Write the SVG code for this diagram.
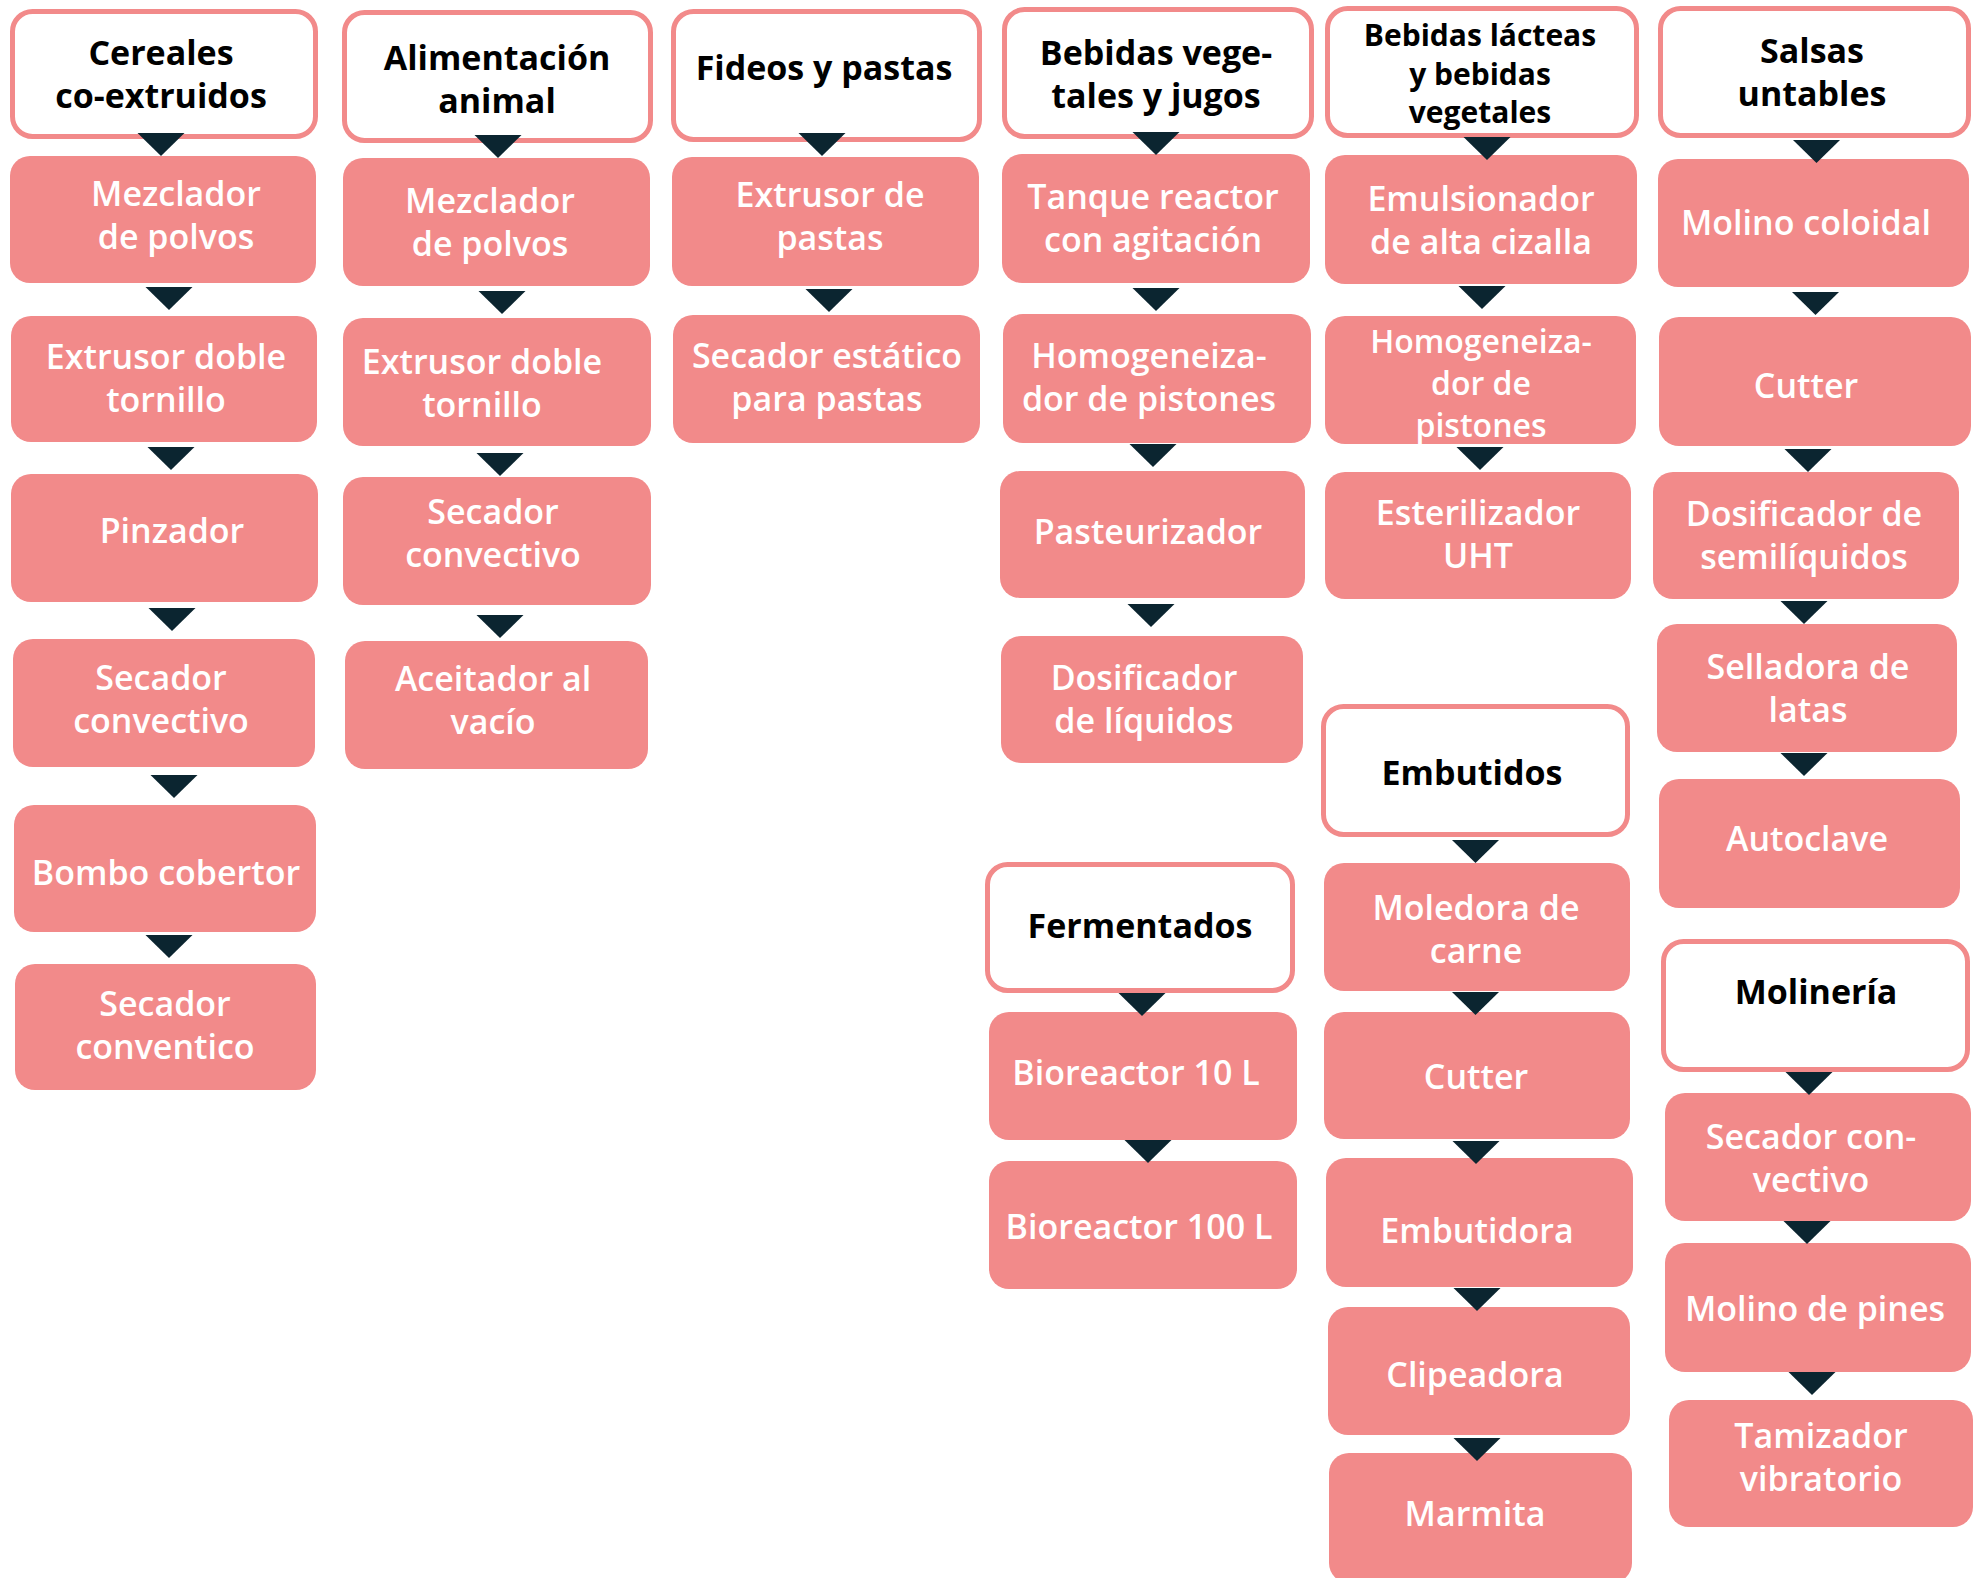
<svg xmlns="http://www.w3.org/2000/svg" width="1973" height="1578" viewBox="0 0 1973 1578">
<style>
.box{fill:#F28A8A}
.hdr{fill:#FFFFFF;stroke:#F28A8A;stroke-width:5}
.t{font-family:'Open Sans','Liberation Sans',sans-serif;font-size:34px;font-weight:600;fill:#FFFFFF;text-anchor:middle}
.h{font-family:'Open Sans','Liberation Sans',sans-serif;font-size:34px;font-weight:700;fill:#000000;text-anchor:middle}
.s{font-size:32px}
.s2{font-size:30px}
.arr{fill:#0B2530}
</style>
<rect width="1973" height="1578" fill="#FFFFFF"/>
<g id="h-cereales"><rect class="hdr" x="12.5" y="11.5" width="303" height="125" rx="20"/><text class="h" x="161" y="65">Cereales</text><text class="h" x="161" y="108">co-extruidos</text></g>
<g id="c1-mezclador"><rect class="box" x="10" y="156" width="306" height="127" rx="20"/><text class="t" x="176" y="206">Mezclador</text><text class="t" x="176" y="249">de polvos</text></g>
<g id="c1-extrusor"><rect class="box" x="11" y="316" width="306" height="126" rx="20"/><text class="t" x="166" y="369">Extrusor doble</text><text class="t" x="166" y="412">tornillo</text></g>
<g id="c1-pinzador"><rect class="box" x="11" y="474" width="307" height="128" rx="20"/><text class="t" x="172" y="543">Pinzador</text></g>
<g id="c1-secador"><rect class="box" x="13" y="639" width="302" height="128" rx="20"/><text class="t" x="161" y="690">Secador</text><text class="t" x="161" y="733">convectivo</text></g>
<g id="c1-bombo"><rect class="box" x="14" y="805" width="302" height="127" rx="20"/><text class="t" x="166" y="885">Bombo cobertor</text></g>
<g id="c1-secador2"><rect class="box" x="15" y="964" width="301" height="126" rx="20"/><text class="t" x="165" y="1016">Secador</text><text class="t" x="165" y="1059">conventico</text></g>

<g id="h-alimentacion"><rect class="hdr" x="344.5" y="12.5" width="306" height="128" rx="20"/><text class="h" x="497" y="70">Alimentación</text><text class="h" x="497" y="113">animal</text></g>
<g id="c2-mezclador"><rect class="box" x="343" y="158" width="307" height="128" rx="20"/><text class="t" x="490" y="213">Mezclador</text><text class="t" x="490" y="256">de polvos</text></g>
<g id="c2-extrusor"><rect class="box" x="343" y="318" width="308" height="128" rx="20"/><text class="t" x="482" y="374">Extrusor doble</text><text class="t" x="482" y="417">tornillo</text></g>
<g id="c2-secador"><rect class="box" x="343" y="477" width="308" height="128" rx="20"/><text class="t" x="493" y="524">Secador</text><text class="t" x="493" y="567">convectivo</text></g>
<g id="c2-aceitador"><rect class="box" x="345" y="641" width="303" height="128" rx="20"/><text class="t" x="493" y="691">Aceitador al</text><text class="t" x="493" y="734">vacío</text></g>

<g id="h-fideos"><rect class="hdr" x="673.5" y="11.5" width="306" height="128" rx="20"/><text class="h" x="824" y="80">Fideos y pastas</text></g>
<g id="c3-extrusor"><rect class="box" x="672" y="157" width="307" height="129" rx="20"/><text class="t" x="830" y="207">Extrusor de</text><text class="t" x="830" y="250">pastas</text></g>
<g id="c3-secador"><rect class="box" x="673" y="315" width="307" height="128" rx="20"/><text class="t" x="827" y="368">Secador estático</text><text class="t" x="827" y="411">para pastas</text></g>

<g id="h-bebidas-veg"><rect class="hdr" x="1004.5" y="9.5" width="307" height="127" rx="20"/><text class="h" x="1156" y="65">Bebidas vege-</text><text class="h" x="1156" y="108">tales y jugos</text></g>
<g id="c4-tanque"><rect class="box" x="1002" y="154" width="308" height="129" rx="20"/><text class="t" x="1153" y="209">Tanque reactor</text><text class="t" x="1153" y="252">con agitación</text></g>
<g id="c4-homog"><rect class="box" x="1003" y="314" width="308" height="129" rx="20"/><text class="t" x="1149" y="368">Homogeneiza-</text><text class="t" x="1149" y="411">dor de pistones</text></g>
<g id="c4-pasteur"><rect class="box" x="1000" y="471" width="305" height="127" rx="20"/><text class="t" x="1148" y="544">Pasteurizador</text></g>
<g id="c4-dosif"><rect class="box" x="1001" y="636" width="302" height="127" rx="20"/><text class="t" x="1144" y="690">Dosificador</text><text class="t" x="1144" y="733">de líquidos</text></g>

<g id="h-fermentados"><rect class="hdr" x="987.5" y="864.5" width="305" height="126" rx="20"/><text class="h" x="1140" y="938">Fermentados</text></g>
<g id="c4-bio10"><rect class="box" x="989" y="1012" width="308" height="128" rx="20"/><text class="t" x="1136" y="1085">Bioreactor 10 L</text></g>
<g id="c4-bio100"><rect class="box" x="989" y="1161" width="308" height="128" rx="20"/><text class="t" x="1139" y="1239">Bioreactor 100 L</text></g>

<g id="h-bebidas-lact"><rect class="hdr" x="1327.5" y="8.5" width="309" height="127" rx="20"/><text class="h s2" x="1480" y="46">Bebidas lácteas</text><text class="h s2" x="1480" y="85">y bebidas</text><text class="h s2" x="1480" y="123">vegetales</text></g>
<g id="c5-emuls"><rect class="box" x="1325" y="155" width="312" height="129" rx="20"/><text class="t" x="1481" y="211">Emulsionador</text><text class="t" x="1481" y="254">de alta cizalla</text></g>
<g id="c5-homog"><rect class="box" x="1325" y="316" width="311" height="128" rx="20"/><text class="t s" x="1481" y="353">Homogeneiza-</text><text class="t s" x="1481" y="395">dor de</text><text class="t s" x="1481" y="437">pistones</text></g>
<g id="c5-ester"><rect class="box" x="1325" y="472" width="306" height="127" rx="20"/><text class="t" x="1478" y="525">Esterilizador</text><text class="t" x="1478" y="568">UHT</text></g>

<g id="h-embutidos"><rect class="hdr" x="1323.5" y="706.5" width="304" height="128" rx="20"/><text class="h" x="1472" y="785">Embutidos</text></g>
<g id="c5-moledora"><rect class="box" x="1324" y="863" width="306" height="128" rx="20"/><text class="t" x="1476" y="920">Moledora de</text><text class="t" x="1476" y="963">carne</text></g>
<g id="c5-cutter"><rect class="box" x="1324" y="1012" width="306" height="127" rx="20"/><text class="t" x="1476" y="1089">Cutter</text></g>
<g id="c5-embutidora"><rect class="box" x="1326" y="1158" width="307" height="129" rx="20"/><text class="t" x="1477" y="1243">Embutidora</text></g>
<g id="c5-clipeadora"><rect class="box" x="1328" y="1307" width="302" height="128" rx="20"/><text class="t" x="1475" y="1387">Clipeadora</text></g>
<g id="c5-marmita"><rect class="box" x="1329" y="1453" width="303" height="130" rx="20"/><text class="t" x="1475" y="1526">Marmita</text></g>

<g id="h-salsas"><rect class="hdr" x="1660.5" y="8.5" width="308" height="127" rx="20"/><text class="h" x="1812" y="63">Salsas</text><text class="h" x="1812" y="106">untables</text></g>
<g id="c6-molino"><rect class="box" x="1658" y="159" width="311" height="128" rx="20"/><text class="t" x="1806" y="235">Molino coloidal</text></g>
<g id="c6-cutter"><rect class="box" x="1659" y="317" width="312" height="129" rx="20"/><text class="t" x="1806" y="398">Cutter</text></g>
<g id="c6-dosif"><rect class="box" x="1653" y="472" width="306" height="127" rx="20"/><text class="t" x="1804" y="526">Dosificador de</text><text class="t" x="1804" y="569">semilíquidos</text></g>
<g id="c6-selladora"><rect class="box" x="1657" y="624" width="300" height="128" rx="20"/><text class="t" x="1808" y="679">Selladora de</text><text class="t" x="1808" y="722">latas</text></g>
<g id="c6-autoclave"><rect class="box" x="1659" y="779" width="301" height="129" rx="20"/><text class="t" x="1807" y="851">Autoclave</text></g>

<g id="h-molineria"><rect class="hdr" x="1663.5" y="941.5" width="304" height="128" rx="20"/><text class="h" x="1816" y="1004">Molinería</text></g>
<g id="c6-secador"><rect class="box" x="1665" y="1093" width="306" height="128" rx="20"/><text class="t" x="1811" y="1149">Secador con-</text><text class="t" x="1811" y="1192">vectivo</text></g>
<g id="c6-pines"><rect class="box" x="1665" y="1243" width="306" height="129" rx="20"/><text class="t" x="1815" y="1321">Molino de pines</text></g>
<g id="c6-tamizador"><rect class="box" x="1669" y="1400" width="304" height="127" rx="20"/><text class="t" x="1821" y="1448">Tamizador</text><text class="t" x="1821" y="1491">vibratorio</text></g>

<g id="connectors">
<path class="arr" d="M137.5,133h47l-23.5,23z"/>
<path class="arr" d="M145.5,287h47l-23.5,23z"/>
<path class="arr" d="M147.5,447h47l-23.5,23z"/>
<path class="arr" d="M148.5,608h47l-23.5,23z"/>
<path class="arr" d="M150.5,775h47l-23.5,23z"/>
<path class="arr" d="M145.5,935h47l-23.5,23z"/>
<path class="arr" d="M474.5,135h47l-23.5,23z"/>
<path class="arr" d="M478.5,291h47l-23.5,23z"/>
<path class="arr" d="M476.5,453h47l-23.5,23z"/>
<path class="arr" d="M476.5,615h47l-23.5,23z"/>
<path class="arr" d="M798.5,133h47l-23.5,23z"/>
<path class="arr" d="M805.5,289h47l-23.5,23z"/>
<path class="arr" d="M1132.5,132h47l-23.5,23z"/>
<path class="arr" d="M1132.5,288h47l-23.5,23z"/>
<path class="arr" d="M1129.5,444h47l-23.5,23z"/>
<path class="arr" d="M1127.5,604h47l-23.5,23z"/>
<path class="arr" d="M1118.5,993h47l-23.5,23z"/>
<path class="arr" d="M1124.5,1140h47l-23.5,23z"/>
<path class="arr" d="M1463.5,137h47l-23.5,23z"/>
<path class="arr" d="M1458.5,286h47l-23.5,23z"/>
<path class="arr" d="M1456.5,447h47l-23.5,23z"/>
<path class="arr" d="M1452,840h47l-23.5,23z"/>
<path class="arr" d="M1452,992h47l-23.5,23z"/>
<path class="arr" d="M1452.5,1141h47l-23.5,23z"/>
<path class="arr" d="M1453.5,1288h47l-23.5,23z"/>
<path class="arr" d="M1453.5,1438h47l-23.5,23z"/>
<path class="arr" d="M1793,140h47l-23.5,23z"/>
<path class="arr" d="M1792,292h47l-23.5,23z"/>
<path class="arr" d="M1784.5,449h47l-23.5,23z"/>
<path class="arr" d="M1780.5,601h47l-23.5,23z"/>
<path class="arr" d="M1780.5,753h47l-23.5,23z"/>
<path class="arr" d="M1785.5,1072h47l-23.5,23z"/>
<path class="arr" d="M1783.5,1221h47l-23.5,23z"/>
<path class="arr" d="M1788.5,1372h47l-23.5,23z"/>
</g>
</svg>
